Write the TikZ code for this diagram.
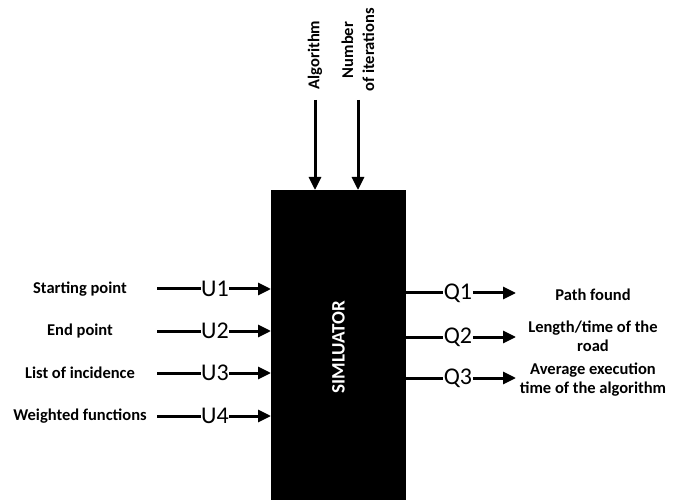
\documentclass[tikz,border=0pt]{standalone}
\usepackage{fontspec}
\setmainfont{Carlito}
\usetikzlibrary{arrows.meta}
\begin{document}
\begin{tikzpicture}[x=1pt,y=-1pt,
  wire/.style={line width=3pt},
  flow/.style={line width=3pt,-{Triangle[length=13pt,width=12pt]}},
  sig/.style={inner sep=0.5pt,font=\fontsize{24}{24}\selectfont},
  lbl/.style={font=\bfseries\fontsize{16.5}{19}\selectfont,align=center},
  toplbl/.style={font=\bfseries\fontsize{16.5}{21}\selectfont,rotate=90,align=center}]
\useasboundingbox (0,0) rectangle (681,500);
% simulator block
\fill[black] (271,190) rectangle (406,502);
\node[font=\bfseries\fontsize{19}{19}\selectfont,text=white,rotate=90] (sim) at (338.5,347) {SIMLUATOR};
% inputs
\foreach \i/\y/\t in {1/289/Starting point,2/331/End point,3/373/List of incidence,4/416/Weighted functions}{
  \node[lbl] (l\i) at (80,\y) {\t};
  \coordinate (s\i) at (157,\y);
  \node[sig] (u\i) at (215,\y) {U\i};
  \coordinate (e\i) at (271,\y);
  \draw[wire] (s\i) -- (u\i.west);
  \draw[flow] (u\i.east) -- (e\i);
}
% outputs
\foreach \i/\y in {1/293,2/337,3/378}{
  \coordinate (o\i) at (406,\y);
  \node[sig] (q\i) at (458,\y) {Q\i};
  \coordinate (t\i) at (516,\y);
  \draw[wire] (o\i) -- (q\i.west);
  \draw[flow] (q\i.east) -- (t\i);
}
\node[lbl] (r1) at (593,295) {Path found};
\node[lbl] (r2) at (593,336) {Length/time of the\\road};
\node[lbl] (r3) at (593,380) {Average execution\\time of the algorithm};
% control inputs
\node[toplbl] (alg) at (315,55) {Algorithm};
\node[toplbl] (num) at (358,50) {Number\\of iterations};
\coordinate (a0) at (315,100);
\coordinate (a1) at (315,190);
\coordinate (n0) at (358,100);
\coordinate (n1) at (358,190);
\draw[flow] (a0) -- (a1);
\draw[flow] (n0) -- (n1);
\end{tikzpicture}
\end{document}
